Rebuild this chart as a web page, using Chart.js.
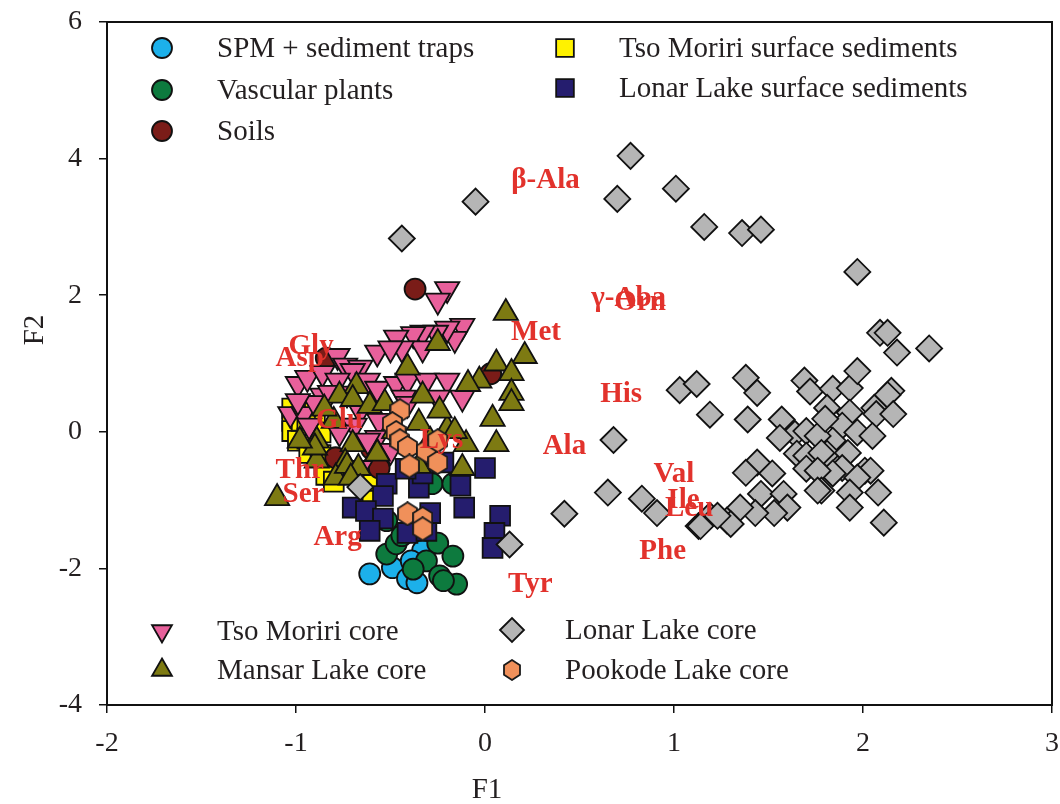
<!DOCTYPE html>
<html>
<head>
<meta charset="utf-8">
<script src="https://cdn.jsdelivr.net/npm/chart.js@4.4.1/dist/chart.umd.min.js"></script>
<style>
  html, body { margin: 0; padding: 0; background: #fff; }
  #wrap { width: 1060px; height: 804px; }
</style>
</head>
<body>
<div id="wrap"><canvas id="chart" width="1060" height="804"></canvas></div>
<script>
// axis ticks
const xTicks = [-2, -1, 0, 1, 2, 3]
const yTicks = [-4, -2, 0, 2, 4, 6]

// sample scores (F1, F2)
const spmTraps = [[-0.61,-2.08],[-0.49,-1.99],[-0.41,-2.15],[-0.36,-2.21],[-0.33,-1.74],[-0.39,-1.89]]
const vascularPlants = [[-0.52,-1.79],[-0.47,-1.64],[-0.44,-1.52],[-0.25,-1.63],[-0.17,-1.82],[-0.31,-1.89],
  [-0.38,-2.01],[-0.24,-2.11],[-0.15,-2.23],[-0.22,-2.18],[-0.28,-0.76],[-0.17,-0.76],[-0.52,-1.30]]
const soils = [[-0.37,2.09],[0.03,0.85],[-0.84,1.08],[-0.79,-0.38],[-0.56,-0.53],[-0.60,-0.25]]
const tsoSurface = [[-1.02,0.34],[-1.02,0.16],[-1.02,0.01],[-0.99,-0.13],[-0.96,0.38],[-0.97,0.16],[-0.94,0.04],
  [-0.94,-0.10],[-0.90,-0.19],[-0.93,-0.31],[-0.87,-0.34],[-0.85,-0.48],[-0.84,-0.63],[-0.80,-0.73],
  [-0.61,-0.91],[-0.62,-0.72],[-0.90,0.28],[-0.87,-0.01]]
const lonarSurface = [[0.00,-0.53],[-0.13,-0.79],[-0.11,-1.11],[-0.35,-0.82],[-0.52,-0.76],[-0.54,-0.94],
  [-0.70,-1.11],[-0.63,-1.16],[-0.54,-1.27],[-0.61,-1.45],[-0.41,-1.48],[-0.31,-1.45],[-0.29,-1.19],
  [-0.33,-0.61],[0.08,-1.23],[0.05,-1.48],[0.04,-1.70],[-0.22,-0.45],[-0.42,-0.54]]
const tsoCore = [[-0.20,2.09],[-0.25,1.92],[-0.12,1.55],[-0.16,1.36],[-0.20,1.51],[-0.26,1.45],[-0.33,1.45],
  [-0.38,1.43],[-0.47,1.38],[-0.33,1.22],[-0.44,1.22],[-0.57,1.16],[-0.50,1.22],[-0.78,1.11],[-0.74,0.97],
  [-0.66,0.94],[-0.70,0.89],[-0.99,0.70],[-0.94,0.79],[-0.86,0.86],[-0.78,0.75],[-0.62,0.75],[-0.57,0.63],
  [-0.47,0.70],[-0.41,0.75],[-0.31,0.75],[-0.20,0.75],[-0.12,0.50],[-0.86,0.53],[-0.43,0.50],[-0.73,0.56],
  [-1.03,0.26],[-0.96,0.26],[-0.56,0.16],[-0.66,0.31],[-0.57,-0.09],[-0.25,0.50],[-0.41,0.41],[-0.90,0.42],
  [-0.82,0.57],[-0.69,0.09],[-0.62,-0.13],[-0.66,-0.53],[-0.93,0.09],[-0.99,0.45],[-0.50,-0.28],[-0.77,-0.01]]
const mansarCore = [[0.11,1.74],[0.21,1.11],[0.06,1.00],[0.14,0.86],[-0.03,0.75],[-0.09,0.70],[0.14,0.57],
  [0.14,0.42],[0.04,0.19],[0.06,-0.18],[-0.25,1.30],[-0.41,0.94],[-0.68,0.67],[-0.77,0.53],[-0.70,0.48],
  [-0.61,0.38],[-0.53,0.42],[-0.33,0.53],[-0.80,0.16],[-0.89,-0.13],[-0.70,-0.18],[-0.57,-0.31],[-0.20,0.04],
  [-0.10,-0.18],[-0.35,0.13],[-0.74,-0.45],[-0.89,-0.42],[-0.12,-0.53],[-1.10,-0.97],[-0.90,-0.23],
  [-0.79,-0.67],[-0.73,-0.50],[-0.67,-0.53],[-0.71,-0.67],[-0.57,-0.32],[-0.35,-0.50],[-0.98,-0.13],
  [-0.85,0.34],[-0.48,0.01],[-0.29,-0.13],[-0.16,0.01],[-0.24,0.31]]
const lonarCore = [[-0.44,2.83],[-0.05,3.37],[0.77,4.04],[0.70,3.41],[1.01,3.56],[1.16,3.00],[1.36,2.91],
  [1.46,2.96],[1.97,2.34],[0.68,-0.12],[0.65,-0.89],[0.42,-1.20],[0.83,-0.98],[0.91,-1.19],[1.03,0.61],
  [1.12,0.70],[1.19,0.25],[1.13,-1.38],[1.19,-1.23],[1.28,-1.30],[0.13,-1.65],[-0.66,-0.81],[1.38,0.79],
  [1.44,0.57],[1.39,0.18],[1.57,0.18],[1.69,0.75],[1.72,0.59],[1.84,0.63],[1.93,0.64],[1.97,0.89],
  [2.09,1.45],[2.13,1.45],[2.18,1.16],[2.35,1.22],[2.15,0.60],[2.13,0.54],[1.81,0.35],[1.93,0.28],
  [2.06,0.35],[2.07,0.26],[2.16,0.26],[1.89,0.09],[1.97,-0.01],[2.05,-0.06],[1.84,-0.13],[1.64,-0.03],
  [1.70,0.01],[1.76,-0.06],[1.81,-0.32],[1.92,-0.31],[1.65,-0.32],[1.70,-0.35],[1.78,-0.31],[1.89,-0.53],
  [2.01,-0.57],[2.04,-0.57],[1.97,-0.67],[1.84,-0.61],[1.70,-0.54],[1.76,-0.57],[1.78,-0.86],[1.93,-0.89],
  [1.93,-1.11],[2.08,-0.89],[2.11,-1.33],[1.76,-0.86],[1.44,-0.45],[1.52,-0.61],[1.38,-0.60],[1.46,-0.91],
  [1.58,-0.91],[1.60,-1.11],[1.53,-1.19],[1.43,-1.19],[1.35,-1.11],[1.30,-1.35],[1.23,-1.23],[1.14,-1.38],
  [1.56,-0.09],[1.80,0.19]]
const pookodeCore = [[-0.45,0.31],[-0.49,0.12],[-0.47,-0.01],[-0.45,-0.13],[-0.41,-0.23],[-0.31,-0.28],
  [-0.25,-0.45],[-0.25,-0.13],[-0.41,-1.20],[-0.33,-1.27],[-0.33,-1.42],[-0.40,-0.50]]

// amino acid loadings (label positions)
const aminoNames = ['β-Ala','γ-Aba','Orn','Met','Gly','Asp','His','Glu','Lys','Ala','Val','Thr','Ser','Ile','Leu','Arg','Phe','Tyr']
const aminoX = [0.32, 0.76, 0.82, 0.27, -0.92, -0.98, 0.72, -0.77, -0.23, 0.42, 1.00, -0.98, -0.96, 1.05, 1.08, -0.78, 0.94, 0.24]
const aminoY = [3.68, 1.95, 1.89, 1.45, 1.25, 1.07, 0.54, 0.16, -0.13, -0.21, -0.62, -0.57, -0.92, -1.01, -1.13, -1.55, -1.76, -2.24]

const SERIF = '"Liberation Serif", "Times New Roman", serif'
const INK = '#231f20'

function makeHexagon(w, h, fill) {
  const c = document.createElement('canvas')
  c.width = w
  c.height = h
  const g = c.getContext('2d')
  g.beginPath()
  g.moveTo(w / 2, 1)
  g.lineTo(w - 1, h * 0.28)
  g.lineTo(w - 1, h * 0.72)
  g.lineTo(w / 2, h - 1)
  g.lineTo(1, h * 0.72)
  g.lineTo(1, h * 0.28)
  g.closePath()
  g.fillStyle = fill
  g.fill()
  g.lineWidth = 1.8
  g.strokeStyle = '#1a1a1a'
  g.stroke()
  return c
}
const hexagon = makeHexagon(21, 25, '#f0905a')
const hexagonSmall = makeHexagon(18, 22, '#f0905a')

// one dataset per sample group, "order" decides what sits on top
const series = [
  { label: 'SPM + sediment traps', data: spmTraps, color: '#1cb0ea', style: 'circle', radius: 10.5, legendRadius: 10, order: 7 },
  { label: 'Vascular plants', data: vascularPlants, color: '#0d7a3e', style: 'circle', radius: 10.5, legendRadius: 10, order: 6 },
  { label: 'Soils', data: soils, color: '#7a1c18', style: 'circle', radius: 10.5, legendRadius: 10, order: 8 },
  { label: 'Tso Moriri surface sediments', data: tsoSurface, color: '#fff200', style: 'rect', radius: 14, legendRadius: 12.5, order: 9 },
  { label: 'Lonar Lake surface sediments', data: lonarSurface, color: '#251d6e', style: 'rect', radius: 14, legendRadius: 12.5, order: 5 },
  { label: 'Tso Moriri core', data: tsoCore, color: '#e8609b', style: 'triangle', radius: 14, legendRadius: 11.5, rotation: 180, order: 4 },
  { label: 'Mansar Lake core', data: mansarCore, color: '#7d7a12', style: 'triangle', radius: 14, legendRadius: 11.5, order: 3 },
  { label: 'Lonar Lake core', data: lonarCore, color: '#b5b5b5', style: 'rectRot', radius: 13, legendRadius: 12, order: 1 },
  { label: 'Pookode Lake core', data: pookodeCore, color: '#f0905a', style: hexagon, legendStyle: hexagonSmall, radius: 12, legendRadius: 11, order: 2 }
]

// where the two legend boxes sit (index into series, marker x/y, text x)
const legendSpots = [
  [0, 162, 48, 217], [1, 162, 90, 217], [2, 162, 131, 217],
  [3, 565, 48, 619], [4, 565, 88, 619],
  [5, 162, 631, 217], [6, 162, 670, 217],
  [7, 512, 630, 565], [8, 512, 670, 565]
]

const decorPlugin = {
  id: 'decor',
  beforeDatasetsDraw(chart) {
    const { ctx, chartArea } = chart
    ctx.save()
    ctx.strokeStyle = '#111'
    ctx.lineWidth = 2
    ctx.strokeRect(chartArea.left, chartArea.top, chartArea.right - chartArea.left, chartArea.bottom - chartArea.top)
    ctx.restore()
  },
  afterDatasetsDraw(chart) {
    const { ctx, scales } = chart
    ctx.save()
    // amino acid names
    ctx.font = 'bold 29px ' + SERIF
    ctx.fillStyle = '#e2322c'
    ctx.textAlign = 'center'
    ctx.textBaseline = 'middle'
    aminoNames.forEach((name, i) => {
      ctx.fillText(name, scales.x.getPixelForValue(aminoX[i]), scales.y.getPixelForValue(aminoY[i]))
    })

    // legends
    ctx.font = '29px ' + SERIF
    ctx.textAlign = 'left'
    legendSpots.forEach(([idx, mx, my, tx]) => {
      const s = series[idx]
      ctx.fillStyle = s.color
      ctx.strokeStyle = '#111'
      ctx.lineWidth = 1.8
      Chart.helpers.drawPoint(ctx, { pointStyle: s.legendStyle || s.style, radius: s.legendRadius, rotation: s.rotation || 0, borderWidth: 1.8 }, mx, my)
      ctx.fillStyle = INK
      ctx.fillText(s.label, tx, my + 1)
    })

    // axis titles
    ctx.font = '29px ' + SERIF
    ctx.textAlign = 'center'
    ctx.fillText('F1', 487, 790)
    ctx.translate(35, 330)
    ctx.rotate(-Math.PI / 2)
    ctx.fillText('F2', 0, 0)
    ctx.restore()
  }
}

new Chart(document.getElementById('chart'), {
  type: 'scatter',
  data: {
    datasets: series.map(s => ({
      label: s.label,
      data: s.data.map(p => ({ x: p[0], y: p[1] })),
      pointStyle: s.style,
      pointRadius: s.radius,
      pointRotation: s.rotation || 0,
      backgroundColor: s.color,
      borderColor: '#111',
      borderWidth: 1.8,
      order: s.order
    }))
  },
  options: {
    responsive: false,
    animation: false,
    events: [],
    // autoPadding would reserve room for the big markers, we want the exact frame
    layout: { autoPadding: false, padding: { left: 0, right: 8, top: 22, bottom: 0 } },
    plugins: {
      legend: { display: false },
      tooltip: { enabled: false }
    },
    scales: {
      x: {
        type: 'linear',
        min: xTicks[0],
        max: xTicks[xTicks.length - 1],
        afterBuildTicks: axis => { axis.ticks = xTicks.map(v => ({ value: v })) },
        afterFit: axis => { axis.height = 99; axis.paddingLeft = 0; axis.paddingRight = 0 },
        grid: { drawOnChartArea: false, drawTicks: true, tickLength: 8, color: '#111', lineWidth: 1.5 },
        border: { display: true, color: '#111', width: 2 },
        ticks: { color: INK, padding: 14, font: { family: SERIF, size: 28 } }
      },
      y: {
        type: 'linear',
        min: yTicks[0],
        max: yTicks[yTicks.length - 1],
        afterBuildTicks: axis => { axis.ticks = yTicks.map(v => ({ value: v })) },
        afterFit: axis => { axis.width = 107; axis.paddingTop = 0; axis.paddingBottom = 0 },
        grid: { drawOnChartArea: false, drawTicks: true, tickLength: 8, color: '#111', lineWidth: 1.5 },
        border: { display: true, color: '#111', width: 2 },
        ticks: { color: INK, padding: 17, font: { family: SERIF, size: 28 } }
      }
    }
  },
  plugins: [decorPlugin]
})
</script>
</body>
</html>
